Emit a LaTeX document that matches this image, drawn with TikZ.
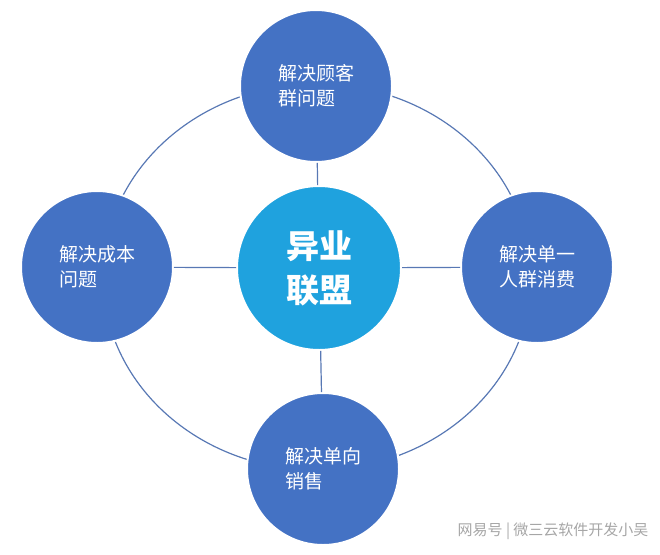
\documentclass[tikz,border=0pt]{standalone}
\usepackage{fontspec}
\newfontfamily\cjk{Noto Sans CJK SC}
\begin{document}
\begin{tikzpicture}[x=1pt,y=-1pt,
 outer/.style={circle,draw=white,line width=2pt,fill=blue!55!cyan!60!black!80,minimum size=152pt,inner sep=0pt,text=white,font=\cjk\fontsize{19}{25}\selectfont,align=left},
 link/.style={draw=blue!40!gray,line width=1.2pt}]
\useasboundingbox (0,0) rectangle (660,554);
\definecolor{ob}{HTML}{4472C4}\definecolor{cb}{HTML}{1FA2DE}\definecolor{ln}{HTML}{5878B4}
\draw[ln,line width=1.2pt] (317,277) ellipse (214pt and 193pt);
\node[outer,fill=ob] (t) at (316,86) {解决顾客\\群问题};
\node[outer,fill=ob] (l) at (97,267) {解决成本\\问题};
\node[outer,fill=ob] (r) at (537,267) {解决单一\\人群消费};
\node[outer,fill=ob] (b) at (323,469) {解决单向\\销售};
\node[circle,draw=white,line width=2pt,fill=cb,minimum size=164pt,text=white,font=\cjk\bfseries\fontsize{33}{44}\selectfont,align=center] (c) at (319,268) {异业\\联盟};
\draw[ln,line width=1.2pt] (c) -- (t) (c) -- (l) (c) -- (r) (c) -- (b);
\node[anchor=east,text=gray!70,font=\cjk\fontsize{15}{18}\selectfont] (w) at (652,531) {网易号 | 微三云软件开发小吴};
\end{tikzpicture}
\end{document}
